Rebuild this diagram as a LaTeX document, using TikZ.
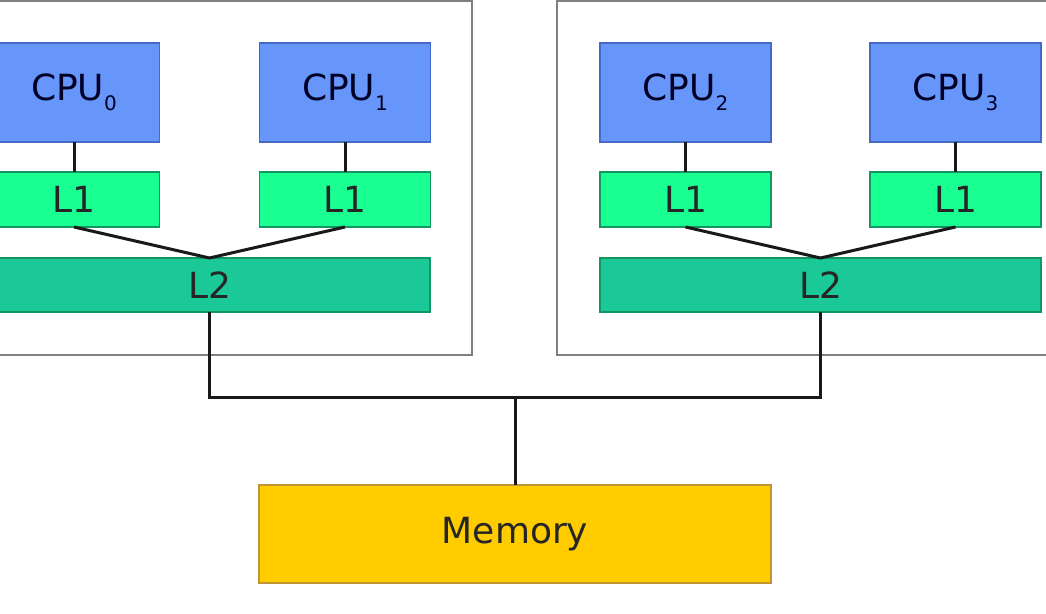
\documentclass[tikz,border=0pt]{standalone}
\usepackage{fontspec}
\setmainfont{DejaVu Sans}
\definecolor{cpublue}{RGB}{102,150,250}
\definecolor{cpuedge}{RGB}{70,105,200}
\definecolor{lonegreen}{RGB}{26,255,146}
\definecolor{ltwogreen}{RGB}{26,200,152}
\definecolor{cacheedge}{RGB}{20,150,100}
\definecolor{memgold}{RGB}{255,204,0}
\definecolor{memedge}{RGB}{190,150,50}
\newcommand{\idx}[1]{\raisebox{-0.5ex}{\fontsize{10}{10}\selectfont #1}}
\tikzset{
    box/.style={draw, line width=0.6pt, inner sep=0pt, outer sep=0pt,
        text=black!85, font=\fontsize{18}{18}\selectfont},
    cpu/.style={box, fill=cpublue, draw=cpuedge, text=blue!15!black, minimum width=85.5pt, minimum height=49.5pt},
    lone/.style={box, fill=lonegreen, draw=cacheedge, minimum width=85.5pt, minimum height=27.5pt},
    ltwo/.style={box, fill=ltwogreen, draw=cacheedge, minimum width=220.5pt, minimum height=27pt},
    memory/.style={box, fill=memgold, draw=memedge, minimum width=256pt, minimum height=49pt},
    chip/.style={draw=black!50, line width=1.4pt},
    wire/.style={draw=black!90, line width=1.5pt}
}
\begin{document}
\begin{tikzpicture}[x=0.5pt, y=-0.5pt]
    \useasboundingbox (0, 0) rectangle (1046, 614);
    % the two chips
    \draw[chip] (-55, 1) rectangle (472, 355);
    \draw[chip] (557, 1) rectangle (1083, 355);
    % cores
    \node[cpu] (cpu0) at(74, 92.5) {CPU\idx{0}};
    \node[cpu] (cpu1) at(345, 92.5) {CPU\idx{1}};
    \node[cpu] (cpu2) at(685.5, 92.5) {CPU\idx{2}};
    \node[cpu] (cpu3) at(955.5, 92.5) {CPU\idx{3}};
    % private caches
    \node[lone] (l1a) at(74, 199.5) {L1};
    \node[lone] (l1b) at(345, 199.5) {L1};
    \node[lone] (l1c) at(685.5, 199.5) {L1};
    \node[lone] (l1d) at(955.5, 199.5) {L1};
    % shared caches
    \node[ltwo] (l2a) at(209.5, 285) {L2};
    \node[ltwo] (l2b) at(820.5, 285) {L2};
    \node[memory] (mem) at(515, 534) {Memory};
    \coordinate (bus) at(515, 398);
    \draw[wire] (cpu0) -- (l1a);
    \draw[wire] (cpu1) -- (l1b);
    \draw[wire] (cpu2) -- (l1c);
    \draw[wire] (cpu3) -- (l1d);
    \draw[wire] (l1a.south) -- (l2a.north) -- (l1b.south);
    \draw[wire] (l1c.south) -- (l2b.north) -- (l1d.south);
    \draw[wire] (l2a.south) |- (bus) -| (l2b.south);
    \draw[wire] (bus) -- (mem.north);
\end{tikzpicture}
\end{document}
